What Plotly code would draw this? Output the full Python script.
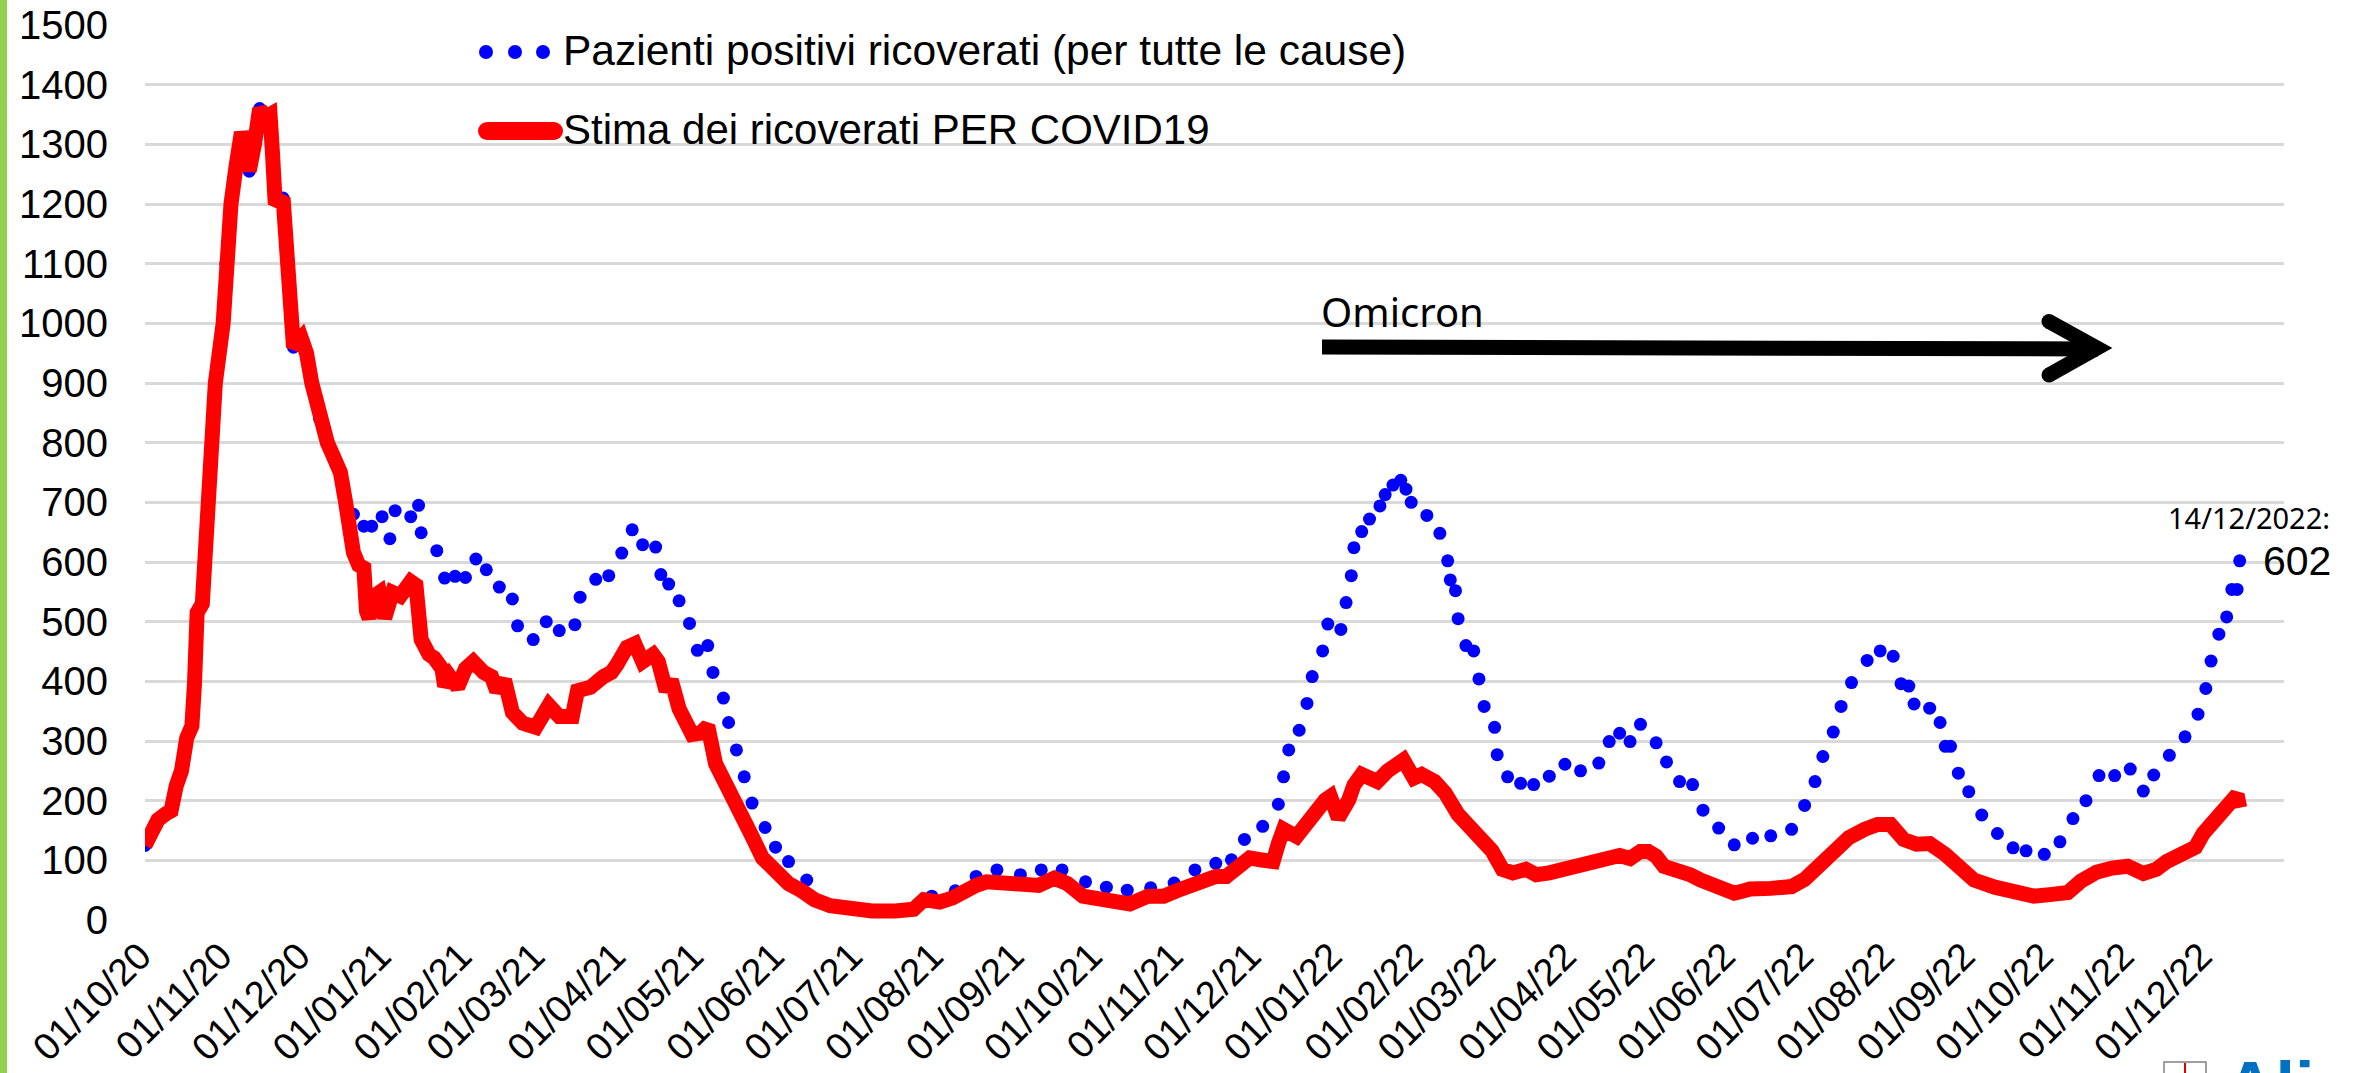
import pandas as pd
import plotly.graph_objects as go

START = "2020-10-01"
X_END = "2022-12-31"

# Stima dei ricoverati PER COVID19 (days after 01/10/2020, value)
red_days = [0, 3, 5, 8, 10, 12, 14, 16, 18, 19, 20, 22, 23, 24, 25, 27, 30, 31, 33, 35, 37, 39, 40, 42, 44,
            46, 48, 49, 50, 53, 55, 57, 60, 62, 64, 67, 70, 72, 75, 77, 78, 80, 82, 84, 85, 86, 88, 90, 92,
            93, 95, 98, 100, 102, 104, 106, 109, 111, 114, 115, 117, 120, 123, 126, 130, 133, 135, 138, 141,
            145, 150, 153, 155, 159, 164, 166, 171, 176, 179, 181, 185, 188, 191, 195, 197, 200, 202, 205,
            208, 210, 213, 216, 219, 224, 228, 233, 237, 241, 247, 252, 257, 263, 270, 279, 288, 295, 299,
            305, 310, 314, 319, 323, 330, 336, 343, 349, 354, 360, 367, 374, 378, 385, 391, 396, 402, 406,
            411, 415, 420, 424, 428, 433, 435, 437, 442, 446, 450, 453, 455, 458, 462, 464, 467, 473, 477,
            480, 483, 487, 490, 495, 499, 504, 508, 512, 517, 521, 525, 530, 534, 539, 545, 552, 558, 562,
            566, 570, 574, 577, 580, 583, 588, 593, 597, 603, 610, 613, 616, 624, 632, 637, 642, 648, 654,
            660, 665, 670, 675, 680, 685, 691, 696, 702, 710, 717, 725, 732, 738, 743, 749, 755, 761, 767,
            772, 776, 782, 787, 790, 795, 799, 802, 803, 804]
red_vals = [125, 150, 168, 178, 183, 225, 250, 305, 325, 396, 515, 530, 600, 700, 800, 900, 1000, 1100, 1200,
            1265, 1320, 1290, 1255, 1300, 1360, 1345, 1350, 1280, 1200, 1210, 1060, 960, 975, 950, 900, 840,
            800, 780, 750, 700, 650, 616, 595, 590, 518, 506, 543, 549, 506, 518, 549, 543, 555, 567, 561,
            470, 445, 439, 421, 392, 408, 390, 421, 433, 415, 408, 384, 402, 348, 330, 323, 340, 360, 341,
            341, 384, 390, 408, 415, 427, 457, 463, 433, 445, 433, 384, 402, 354, 322, 311, 313, 325, 262,
            213, 177, 140, 104, 85, 61, 49, 34, 24, 18, 15, 15, 18, 34, 30, 37, 49, 58, 64, 61, 55, 58, 70,
            61, 40, 37, 34, 27, 40, 40, 49, 61, 67, 73, 73, 91, 104, 101, 98, 128, 152, 140, 165, 183, 201,
            207, 171, 201, 226, 244, 232, 250, 262, 268, 238, 244, 232, 213, 177, 158, 134, 116, 85, 79, 85,
            76, 79, 85, 88, 95, 100, 108, 103, 115, 115, 107, 90, 85, 76, 67, 58, 45, 48, 52, 53, 56, 68, 88,
            115, 138, 152, 160, 160, 135, 127, 128, 110, 91, 67, 55, 46, 40, 43, 46, 65, 80, 87, 90, 78, 85,
            98, 108, 122, 145, 172, 185, 205, 210, 188]

# Pazienti positivi ricoverati (per tutte le cause) (days after 01/10/2020, value)
blue_days = [0, 5, 10, 16, 20, 24, 27, 31, 35, 40, 44, 48, 53, 57, 62, 67, 72, 76, 80, 84, 87, 91, 94, 96,
             102, 105, 106, 112, 115, 119, 123, 127, 131, 136, 141, 143, 149, 154, 159, 165, 167, 173, 178,
             183, 187, 191, 196, 198, 201, 205, 209, 212, 216, 218, 222, 224, 227, 230, 233, 238, 242, 247,
             254, 262, 272, 284, 294, 302, 311, 319, 327, 336, 344, 352, 361, 369, 377, 386, 395, 403, 411,
             417, 422, 429, 435, 437, 439, 443, 446, 448, 452, 454, 459, 461, 463, 464, 467, 470, 474, 476,
             479, 482, 484, 486, 492, 497, 500, 501, 503, 504, 507, 510, 512, 514, 518, 519, 523, 528, 533,
             539, 545, 551, 558, 562, 566, 570, 574, 580, 584, 589, 594, 598, 604, 610, 617, 624, 632, 637,
             641, 644, 648, 651, 655, 661, 666, 671, 674, 677, 679, 685, 689, 691, 693, 696, 700, 705, 711,
             717, 722, 729, 735, 740, 745, 750, 756, 762, 767, 771, 777, 783, 788, 791, 793, 796, 799, 801,
             803, 804]
blue_vals = [125, 168, 183, 305, 515, 700, 900, 1100, 1265, 1255, 1360, 1350, 1210, 960, 950, 840, 780, 725,
             680, 660, 660, 676, 639, 686, 676, 695, 649, 619, 573, 576, 574, 605, 587, 558, 538, 493, 470,
             500, 485, 495, 541, 571, 577, 615, 654, 629, 625, 579, 563, 535, 497, 452, 460, 415, 372, 331,
             285, 240, 196, 155, 122, 98, 67, 25, 18, 15, 18, 40, 49, 73, 84, 76, 84, 84, 64, 55, 50, 54, 62,
             84, 95, 101, 135, 157, 194, 240, 285, 318, 363, 408, 451, 496, 487, 532, 577, 624, 651, 672, 694,
             713, 729, 737, 722, 700, 678, 648, 602, 570, 552, 505, 460, 451, 404, 358, 323, 277, 240, 229,
             227, 241, 261, 250, 263, 299, 313, 299, 328, 297, 265, 232, 227, 184, 154, 126, 137, 141, 152,
             192, 232, 274, 315, 358, 398, 435, 451, 442, 396, 392, 362, 355, 331, 291, 291, 246, 215, 176,
             145, 121, 116, 110, 131, 170, 200, 242, 242, 253, 216, 243, 276, 307, 345, 388, 434, 479, 508,
             554, 554, 602]

tick_dates = ["2020-10-01", "2020-11-01", "2020-12-01", "2021-01-01", "2021-02-01", "2021-03-01",
              "2021-04-01", "2021-05-01", "2021-06-01", "2021-07-01", "2021-08-01", "2021-09-01",
              "2021-10-01", "2021-11-01", "2021-12-01", "2022-01-01", "2022-02-01", "2022-03-01",
              "2022-04-01", "2022-05-01", "2022-06-01", "2022-07-01", "2022-08-01", "2022-09-01",
              "2022-10-01", "2022-11-01", "2022-12-01"]
tick_labels = ["01/10/20", "01/11/20", "01/12/20", "01/01/21", "01/02/21", "01/03/21", "01/04/21",
               "01/05/21", "01/06/21", "01/07/21", "01/08/21", "01/09/21", "01/10/21", "01/11/21",
               "01/12/21", "01/01/22", "01/02/22", "01/03/22", "01/04/22", "01/05/22", "01/06/22",
               "01/07/22", "01/08/22", "01/09/22", "01/10/22", "01/11/22", "01/12/22"]
y_ticks = list(range(0, 1501, 100))

name_blue = "Pazienti positivi ricoverati (per tutte le cause)"
name_red = "Stima dei ricoverati PER COVID19"
variant_text = "Omicron"

BLUE = "#0000FF"
RED = "#FF0000"
FONT = "Arial, Liberation Sans, sans-serif"
FONT2 = "Noto Sans, Open Sans, sans-serif"

W, H = 2366, 1073
ML, MR, MT, MB = 145, 82, 25, 153
PW, PH = W - ML - MR, H - MT - MB


def px(x):
    return (x - ML) / PW


def py(y):
    return (H - MB - y) / PH


start = pd.Timestamp(START)
red_x = [start + pd.Timedelta(days=d) for d in red_days]
blue_x = [start + pd.Timedelta(days=d) for d in blue_days]

fig = go.Figure()
fig.add_trace(go.Scatter(x=blue_x, y=blue_vals, mode="markers", name=name_blue,
                         marker=dict(color=BLUE, size=13, line=dict(width=0)), showlegend=False))
fig.add_trace(go.Scatter(x=red_x, y=red_vals, mode="lines", name=name_red,
                         line=dict(color=RED, width=15), showlegend=False))

shapes = []
# green bar at left edge
shapes.append(dict(type="rect", xref="paper", yref="paper", x0=px(0), x1=px(7), y0=py(H), y1=py(0),
                   fillcolor="#92D050", line=dict(width=0), layer="above"))


def dot(cx, cy, r, color):
    return dict(type="circle", xref="paper", yref="paper", xsizemode="pixel", ysizemode="pixel",
                xanchor=px(cx), yanchor=py(cy), x0=-r, x1=r, y0=-r, y1=r,
                fillcolor=color, line=dict(width=0))


# legend swatches
for cx in (486, 515, 543):
    shapes.append(dot(cx, 52, 7, BLUE))
shapes.append(dict(type="line", xref="paper", yref="paper", x0=px(487), x1=px(554), y0=py(131), y1=py(131),
                   line=dict(color=RED, width=18)))
shapes.append(dot(487, 131, 9, RED))
shapes.append(dot(554, 131, 9, RED))

# Omicron arrow
shapes.append(dict(type="line", xref="paper", yref="paper", x0=px(1322), y0=py(347), x1=px(2098), y1=py(349),
                   line=dict(color="black", width=15)))
shapes.append(dict(type="path", xref="paper", yref="paper",
                   path=f"M {px(2049)},{py(321.5)} L {px(2097)},{py(348)} L {px(2049)},{py(375)}",
                   line=dict(color="black", width=15)))
shapes.append(dot(2049, 321.5, 7.5, "black"))
shapes.append(dot(2049, 375, 7.5, "black"))

# logo fragment (bottom right)
shapes.append(dict(type="rect", xref="paper", yref="paper", x0=px(2164), x1=px(2206), y0=py(1090), y1=py(1062),
                   line=dict(color="#808080", width=1.5), fillcolor="white"))
shapes.append(dict(type="line", xref="paper", yref="paper", x0=px(2185), x1=px(2185), y0=py(1090), y1=py(1063),
                   line=dict(color="#E00000", width=2)))

annotations = [
    dict(text=name_blue, xref="paper", yref="paper", x=px(561), y=py(51), xanchor="left", yanchor="middle",
         showarrow=False, font=dict(family=FONT, size=42.5, color="black")),
    dict(text=name_red, xref="paper", yref="paper", x=px(561), y=py(129), xanchor="left", yanchor="middle",
         showarrow=False, font=dict(family=FONT, size=42, color="black")),
    dict(text=variant_text, xref="paper", yref="paper", x=px(1319), y=py(311), xanchor="left", yanchor="middle",
         showarrow=False, font=dict(family=FONT2, size=40, color="black")),
    dict(text=blue_x[-1].strftime("%d/%m/%Y") + ":", x=blue_x[-1], y=blue_vals[-1], xref="x", yref="y",
         xanchor="left", yanchor="middle", xshift=-74, yshift=43, showarrow=False,
         font=dict(family=FONT2, size=29, color="black")),
    dict(text=str(blue_vals[-1]), x=blue_x[-1], y=blue_vals[-1], xref="x", yref="y",
         xanchor="left", yanchor="middle", xshift=21, yshift=0, showarrow=False,
         font=dict(family=FONT, size=41, color="black")),
    dict(text="<b>Ali</b>", xref="paper", yref="paper", x=px(2223), y=py(1087), xanchor="left",
         yanchor="middle", showarrow=False, font=dict(family=FONT, size=70, color="#0070C0")),
]

fig.update_layout(
    width=W, height=H,
    margin=dict(l=ML, r=MR, t=MT, b=MB, pad=0),
    paper_bgcolor="white", plot_bgcolor="white",
    showlegend=False,
    shapes=shapes,
    annotations=annotations,
    font=dict(family=FONT, color="black"),
    xaxis=dict(type="date", range=[START, X_END], tickvals=tick_dates, ticktext=tick_labels,
               tickangle=-45, tickfont=dict(family=FONT, size=38, color="black"),
               showgrid=False, zeroline=False, showline=False, ticks="", automargin=False,
               ticklabelstandoff=5, ticklabelshift=-5),
    yaxis=dict(range=[0, 1500], tickvals=y_ticks, tickfont=dict(family=FONT, size=40, color="black"),
               showgrid=True, gridcolor="#D9D9D9", gridwidth=2.5, zeroline=False, showline=False,
               ticks="", automargin=False, ticklabelstandoff=36),
)

fig.write_html("out.html", config={"displayModeBar": False},
               post_script="document.body.style.margin='0';document.body.style.overflow='hidden';")
